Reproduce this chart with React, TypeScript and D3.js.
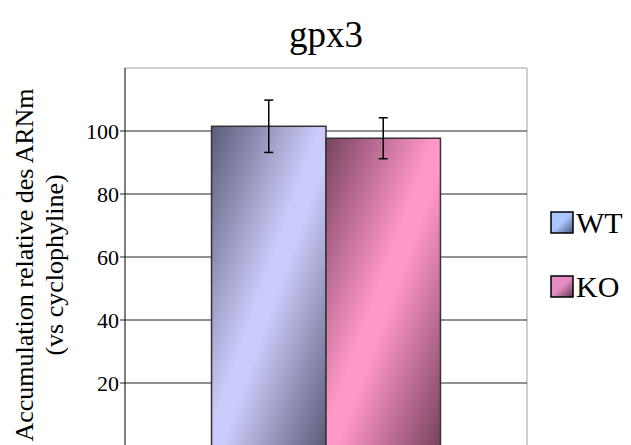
import React from "react";
import * as d3 from "d3";

const title = "gpx3";
const categories = ["gpx3"];
const seriesNames = ["WT", "KO"];
const seriesValues = [101.5, 97.7];
const seriesErrors = [8.3, 6.5];
const yTicks = [20, 40, 60, 80, 100];
const yTitleLines = ["Accumulation relative des ARNm", "(vs cyclophyline)"];

const W = 631;
const H = 445;
const plot = { left: 125, right: 527, top: 68, bottom: 446 };
const FONT = "Liberation Serif, DejaVu Serif, Times New Roman, serif";

const barColors = [
  { light: "#cbcbfb", dark: "#5b5b78" },
  { light: "#ff97c9", dark: "#77435d" },
];
const legendColors = [
  { light: "#a9c6ff", dark: "#4a5578" },
  { light: "#e68cc4", dark: "#5a3a4c" },
];

export default function App() {
  const y = d3.scaleLinear().domain([0, 120]).range([plot.bottom, plot.top]);
  const x0 = d3
    .scaleBand<string>()
    .domain(categories)
    .range([plot.left, plot.right])
    .paddingInner(0)
    .paddingOuter(0.378);
  const x1 = d3
    .scaleBand<string>()
    .domain(seriesNames)
    .range([0, x0.bandwidth()])
    .padding(0);

  const yMid = 265;
  const ts = { fontFamily: FONT };

  return (
    <svg
      width={W}
      height={H}
      style={{ position: "absolute", left: 0, top: 0, background: "#fff", fontFamily: FONT }}
    >
      <defs>
        {barColors.map((c, i) => (
          <linearGradient key={i} id={`bar${i}`} x1="0" y1="0" x2="1" y2="1">
            <stop offset="0" stopColor={c.dark} />
            <stop offset="0.47" stopColor={c.light} />
            <stop offset="0.55" stopColor={c.light} />
            <stop offset="1" stopColor={c.dark} />
          </linearGradient>
        ))}
        {legendColors.map((c, i) => (
          <linearGradient key={i} id={`leg${i}`} x1="0" y1="0" x2="1" y2="1">
            <stop offset="0" stopColor={c.light} />
            <stop offset="0.5" stopColor={c.light} />
            <stop offset="1" stopColor={c.dark} />
          </linearGradient>
        ))}
      </defs>
      <rect x={0} y={0} width={W} height={H} fill="#fff" />

      {/* title */}
      <text x={326} y={47} fontSize={37} textAnchor="middle" fill="#000" style={ts}>
        {title}
      </text>

      {/* plot frame (top/right) */}
      <line x1={plot.left} x2={plot.right} y1={plot.top} y2={plot.top} stroke="#a0a0a0" strokeWidth={1} />
      <line x1={plot.right} x2={plot.right} y1={plot.top} y2={plot.bottom} stroke="#a0a0a0" strokeWidth={1} />

      {/* gridlines and ticks */}
      {yTicks.map((t) => (
        <g key={t}>
          <line x1={plot.left - 5} x2={plot.right} y1={y(t)} y2={y(t)} stroke="#222" strokeWidth={1} />
          <text x={119} y={y(t)} dy="0.35em" fontSize={22} textAnchor="end" fill="#000" style={ts}>
            {t}
          </text>
        </g>
      ))}

      {/* y axis */}
      <line x1={plot.left} x2={plot.left} y1={plot.top} y2={plot.bottom} stroke="#000" strokeWidth={1} />

      {/* bars */}
      {categories.map((cat) => (
        <g key={cat} transform={`translate(${x0(cat)},0)`}>
          {seriesNames.map((s, i) => {
            const bx = x1(s)!;
            const bw = x1.bandwidth();
            const v = seriesValues[i];
            const e = seriesErrors[i];
            const cx = bx + bw / 2;
            return (
              <g key={s}>
                <rect
                  x={bx}
                  y={y(v)}
                  width={bw}
                  height={y(0) - y(v)}
                  fill={`url(#bar${i})`}
                  stroke="#333"
                  strokeWidth={1.5}
                />
                <line x1={cx} x2={cx} y1={y(v + e)} y2={y(v - e)} stroke="#000" strokeWidth={1.5} />
                <line x1={cx - 4.5} x2={cx + 4.5} y1={y(v + e)} y2={y(v + e)} stroke="#000" strokeWidth={1.5} />
                <line x1={cx - 4.5} x2={cx + 4.5} y1={y(v - e)} y2={y(v - e)} stroke="#000" strokeWidth={1.5} />
              </g>
            );
          })}
        </g>
      ))}

      {/* y title */}
      {yTitleLines.map((line, i) => (
        <text
          key={i}
          transform={`translate(${33 + i * 30},${yMid}) rotate(-90)`}
          fontSize={26}
          textAnchor="middle"
          fill="#000"
          style={ts}
        >
          {line}
        </text>
      ))}

      {/* legend */}
      {seriesNames.map((s, i) => (
        <g key={s} transform={`translate(551,${212 + i * 64})`}>
          <rect x={0} y={0} width={22} height={21} fill={`url(#leg${i})`} stroke="#000" strokeWidth={1.5} />
          <text x={25} y={21} fontSize={30} fill="#000" style={ts}>
            {s}
          </text>
        </g>
      ))}
    </svg>
  );
}
